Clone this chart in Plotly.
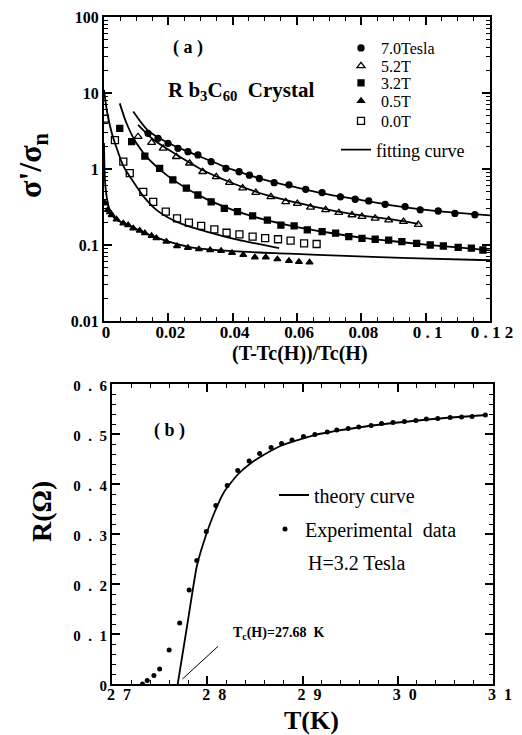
import plotly.graph_objects as go

# ---------------- panel (a) data ----------------
x_70 = [0.0137, 0.0168, 0.0199, 0.0230, 0.0261, 0.0292, 0.0333, 0.0379, 0.0420, 0.0452, 0.0483,
        0.0529, 0.0575, 0.0627, 0.0678, 0.0735, 0.0781, 0.0823, 0.0874, 0.0936, 0.0983, 0.1039,
        0.1091, 0.1153]
y_70 = [2.95, 2.53, 2.18, 1.87, 1.69, 1.53, 1.25, 1.02, 0.92, 0.83, 0.75,
        0.66, 0.62, 0.54, 0.49, 0.43, 0.40, 0.38, 0.343, 0.32, 0.29, 0.28,
        0.26, 0.25]

x_52 = [0.0106, 0.0148, 0.0184, 0.0225, 0.0266, 0.0307, 0.0349, 0.0390, 0.0431, 0.0472, 0.0519,
        0.0565, 0.0601, 0.0642, 0.0689, 0.0730, 0.0771, 0.0802, 0.0843, 0.0885, 0.0931, 0.0977]
y_52 = [2.66, 2.22, 1.87, 1.45, 1.19, 0.92, 0.79, 0.66, 0.56, 0.49, 0.43,
        0.37, 0.35, 0.313, 0.29, 0.266, 0.248, 0.236, 0.224, 0.213, 0.203, 0.185]

x_32 = [0.0049, 0.0086, 0.0127, 0.0173, 0.0214, 0.0256, 0.0292, 0.0333, 0.0374, 0.0415, 0.0462,
        0.0508, 0.0550, 0.0591, 0.0632, 0.0678, 0.0720, 0.0761, 0.0802, 0.0843, 0.0885, 0.0926,
        0.0972, 0.1014, 0.1055, 0.1101, 0.1142, 0.1178]
y_32 = [3.43, 2.29, 1.48, 1.02, 0.72, 0.56, 0.455, 0.37, 0.304, 0.275, 0.241,
        0.213, 0.183, 0.178, 0.158, 0.150, 0.143, 0.129, 0.122, 0.119, 0.116, 0.111,
        0.105, 0.100, 0.097, 0.093, 0.091, 0.086]

x_05 = [0.0003, 0.0012, 0.0018, 0.0024, 0.0039, 0.0060, 0.0075, 0.0091, 0.0111, 0.0127, 0.0148,
        0.0163, 0.0194, 0.0227, 0.0261, 0.0295, 0.0330, 0.0364, 0.0398, 0.0433, 0.0469, 0.0503,
        0.0539, 0.0575, 0.0606, 0.0639]
y_05 = [0.354, 0.29, 0.27, 0.248, 0.218, 0.193, 0.183, 0.166, 0.155, 0.143, 0.132,
        0.123, 0.111, 0.097, 0.092, 0.088, 0.086, 0.084, 0.079, 0.074, 0.069, 0.069,
        0.065, 0.062, 0.060, 0.059]

x_00 = [0.0003, 0.0034, 0.0060, 0.0080, 0.0122, 0.0153, 0.0192, 0.0227, 0.0264, 0.0302, 0.0343,
        0.0381, 0.0421, 0.0462, 0.0501, 0.0541, 0.0580, 0.0622, 0.0661]
y_00 = [4.6, 2.4, 1.25, 0.88, 0.50, 0.37, 0.275, 0.224, 0.197, 0.178, 0.161,
        0.145, 0.138, 0.129, 0.123, 0.119, 0.114, 0.105, 0.103]

# fitting curves
fx_70 = [0.0091, 0.0137, 0.02, 0.03, 0.04, 0.05, 0.06, 0.07, 0.08, 0.09, 0.10, 0.11, 0.12]
fy_70 = [5.7, 3.2, 2.2, 1.45, 0.98, 0.72, 0.57, 0.46, 0.39, 0.33, 0.29, 0.265, 0.245]
fx_52 = [0.0106, 0.015, 0.02, 0.03, 0.04, 0.05, 0.06, 0.07, 0.08, 0.09, 0.0977]
fy_52 = [3.8, 2.5, 1.8, 1.0, 0.65, 0.46, 0.36, 0.29, 0.245, 0.215, 0.19]
fx_32 = [0.0049, 0.007, 0.0101, 0.0142, 0.02, 0.03, 0.04, 0.05, 0.06, 0.07, 0.08, 0.09, 0.10,
         0.11, 0.12]
fy_32 = [7.3, 4.0, 2.18, 1.31, 0.80, 0.44, 0.29, 0.215, 0.172, 0.145, 0.125, 0.112, 0.101,
         0.093, 0.085]
fx_05 = [0.0, 0.0004, 0.0013, 0.0024, 0.0039, 0.0075, 0.0127, 0.0194, 0.0266, 0.04, 0.0575,
         0.075, 0.095, 0.12]
fy_05 = [2.2, 0.62, 0.34, 0.25, 0.215, 0.183, 0.143, 0.113, 0.094, 0.083, 0.077,
         0.072, 0.067, 0.063]
fx_00 = [0.0, 0.001, 0.0024, 0.0039, 0.006, 0.0091, 0.0122, 0.0163, 0.0214, 0.0266, 0.0318,
         0.0369, 0.0421, 0.0472, 0.0544]
fy_00 = [11, 5.5, 3.0, 1.9, 1.1, 0.68, 0.44, 0.29, 0.213, 0.174, 0.150,
         0.131, 0.116, 0.105, 0.091]

xa_tickvals = [0, 0.02, 0.04, 0.06, 0.08, 0.1, 0.12]
xa_ticktext = ["0", "0.02", "0.04", "0.06", "0.08", "0 . 1", "0 . 1 2"]

# ---------------- panel (b) data ----------------
T_exp = [27.32, 27.37, 27.44, 27.50, 27.60, 27.71, 27.81, 27.89, 27.99, 28.09, 28.21, 28.32,
         28.44, 28.55, 28.67, 28.78, 28.89, 29.01, 29.13, 29.26, 29.36, 29.48, 29.59, 29.72,
         29.83, 29.95, 30.07, 30.19, 30.30, 30.42, 30.55, 30.67, 30.78, 30.92]
R_exp = [0.0, 0.007, 0.017, 0.030, 0.068, 0.122, 0.188, 0.247, 0.305, 0.357, 0.397, 0.427,
         0.446, 0.461, 0.473, 0.481, 0.488, 0.495, 0.499, 0.504, 0.508, 0.511, 0.514, 0.517,
         0.521, 0.523, 0.525, 0.527, 0.530, 0.531, 0.533, 0.534, 0.535, 0.538]
T_th = [27.69, 27.79, 27.89, 27.97, 28.08, 28.18, 28.32, 28.46, 28.60, 28.78, 29.13, 29.66,
        30.37, 30.93]
R_th = [0.0, 0.118, 0.235, 0.288, 0.345, 0.385, 0.419, 0.442, 0.459, 0.477, 0.498, 0.515,
        0.530, 0.538]
Tc_H = 27.68

EN = "\u2002"
xb_tickvals = [27, 28, 29, 30, 31]
xb_ticktext = ["2" + EN + "7", "2" + EN + "8", "2" + EN + "9", "3" + EN + "0", "3" + EN + "1"]
yb_tickvals = [0, 0.1, 0.2, 0.3, 0.4, 0.5, 0.6]
yb_ticktext = ["0"] + ["0" + EN + "." + EN + d for d in "123456"]

SERIF = "Liberation Serif"
W, H = 522, 735

fig = go.Figure()

series = [
    ("7.0Tesla", x_70, y_70, "circle", 6, 48),
    ("5.2T", x_52, y_52, "triangle-up-open", 7, 66),
    ("3.2T", x_32, y_32, "square", 6, 83),
    ("0.5T", x_05, y_05, "triangle-up", 6, 101),
    ("0.0T", x_00, y_00, "square-open", 7, 121),
]
legend_layout = {}
for i, (name, xs, ys, sym, sz, ly) in enumerate(series):
    lg = "legend" if i == 0 else "legend%d" % (i + 1)
    fig.add_trace(go.Scatter(x=xs, y=ys, mode="markers", name=name,
                             marker=dict(symbol=sym, size=sz, color="black",
                                         line=dict(color="black", width=1.3)),
                             xaxis="x", yaxis="y", legend=lg))
    legend_layout[lg] = dict(x=341 / W, y=1 - ly / H, xanchor="left", yanchor="middle",
                             bgcolor="rgba(0,0,0,0)", itemwidth=30, borderwidth=0,
                             font=dict(family=SERIF, size=16, color="black"))

curves = [(fx_70, fy_70), (fx_52, fy_52), (fx_32, fy_32), (fx_05, fy_05), (fx_00, fy_00)]
for i, (xs, ys) in enumerate(curves):
    fig.add_trace(go.Scatter(x=xs, y=ys, mode="lines", name="fitting curve",
                             line=dict(color="black", width=1.8, shape="spline", smoothing=0.8),
                             showlegend=(i == 0), xaxis="x", yaxis="y", legend="legend6"))
legend_layout["legend6"] = dict(x=336 / W, y=1 - 150 / H, xanchor="left", yanchor="middle",
                                bgcolor="rgba(0,0,0,0)", itemwidth=30, borderwidth=0,
                                font=dict(family=SERIF, size=18, color="black"))

fig.add_trace(go.Scatter(x=T_th, y=R_th, mode="lines", name="theory curve",
                         line=dict(color="black", width=1.8, shape="spline", smoothing=0.5),
                         xaxis="x2", yaxis="y2", legend="legend7"))
fig.add_trace(go.Scatter(x=T_exp, y=R_exp, mode="markers", name="Experimental  data",
                         marker=dict(symbol="circle", size=5, color="black"),
                         xaxis="x2", yaxis="y2", legend="legend8"))
legend_layout["legend7"] = dict(x=274 / W, y=1 - 495 / H, xanchor="left", yanchor="middle",
                                bgcolor="rgba(0,0,0,0)", itemwidth=30, borderwidth=0,
                                font=dict(family=SERIF, size=20, color="black"))
legend_layout["legend8"] = dict(x=265 / W, y=1 - 529 / H, xanchor="left", yanchor="middle",
                                bgcolor="rgba(0,0,0,0)", itemwidth=30, borderwidth=0,
                                font=dict(family=SERIF, size=20, color="black"))

def tf(s):
    return dict(family=SERIF, size=s, color="black", weight="bold")

common = dict(showline=True, linecolor="black", linewidth=2, mirror="allticks",
              ticks="inside", tickcolor="black", tickwidth=1.5, showgrid=False,
              zeroline=False, automargin=False)
minor_common = dict(ticks="inside", ticklen=4, tickcolor="black", tickwidth=1, showgrid=False)

fig.update_layout(
    template="none",
    width=W, height=H, margin=dict(l=0, r=0, t=0, b=0, autoexpand=False),
    paper_bgcolor="white", plot_bgcolor="white",
    xaxis=dict(domain=[104 / W, 490 / W], anchor="y", range=[0, 0.12],
               tickmode="array", tickvals=xa_tickvals, ticktext=xa_ticktext, ticklen=8,
               tickfont=tf(17), ticklabelstandoff=-5, ticklabelshift=2,
               minor=dict(dtick=0.005, tick0=0, **minor_common), **common),
    yaxis=dict(domain=[1 - 321 / H, 1 - 17 / H], anchor="x", type="log", range=[-2, 2],
               tickmode="linear", tick0=0, dtick=1, ticklen=8, tickfont=tf(16),
               minor=dict(dtick="D1", **minor_common), **common),
    xaxis2=dict(domain=[112 / W, 493 / W], anchor="y2", range=[27, 31],
                tickmode="array", tickvals=xb_tickvals, ticktext=xb_ticktext, ticklen=8,
                tickfont=tf(16), ticklabelstandoff=-5, ticklabelshift=7,
                minor=dict(dtick=0.2, tick0=27, **minor_common), **common),
    yaxis2=dict(domain=[1 - 684 / H, 1 - 384 / H], anchor="x2", range=[0, 0.6],
                tickmode="array", tickvals=yb_tickvals, ticktext=yb_ticktext, ticklen=8,
                tickfont=tf(15), ticklabelshift=2,
                minor=dict(dtick=0.02, tick0=0, **minor_common), **common),
    showlegend=True,
    **legend_layout,
)

annotations = [
    dict(x=188 / W, y=1 - 47 / H, text="( a )", font=tf(18)),
    dict(x=241 / W, y=1 - 91 / H, text="R b<sub>3</sub>C<sub>60</sub>  Crystal", font=tf(21)),
    dict(x=32 / W, y=1 - 165 / H, text="σ'/σ<sub>n</sub>", textangle=-90, font=tf(32)),
    dict(x=300 / W, y=1 - 353 / H, text="(T-Tc(H))/Tc(H)", font=tf(20)),
    dict(x=169 / W, y=1 - 430 / H, text="( b )", font=tf(18)),
    dict(x=42 / W, y=1 - 512 / H, text="R(Ω)", textangle=-90, font=tf(28)),
    dict(x=311 / W, y=1 - 720 / H, text="T(K)", font=tf(26)),
    dict(x=306 / W, y=1 - 563 / H, text="H=3.2 Tesla", xanchor="left",
         font=dict(family=SERIF, size=20, color="black")),
    dict(x=231 / W, y=1 - 633 / H, text="T<sub>c</sub>(H)=27.68  K", xanchor="left",
         font=tf(14)),
]
for a in annotations:
    a.setdefault("xanchor", "center")
    fig.add_annotation(xref="paper", yref="paper", showarrow=False, yanchor="middle", **a)

fig.add_annotation(xref="x2", yref="y2", x=Tc_H + 0.06, y=0.01, text="", showarrow=True,
                   arrowhead=0, arrowwidth=1, arrowcolor="black", ax=37, ay=-34)

fig.write_html("out.html", config={"displayModeBar": False},
               post_script="document.body.style.margin='0';document.body.style.overflow='hidden';")
